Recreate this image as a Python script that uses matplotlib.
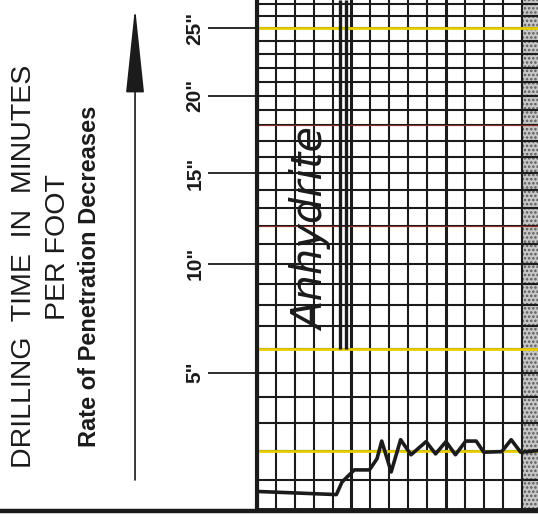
import numpy as np
import matplotlib
matplotlib.use('Agg')
import matplotlib.pyplot as plt
from matplotlib.patches import FancyArrowPatch
from matplotlib.lines import Line2D

# drilling time curve: depth in grid divisions, time in minutes per foot
depth = [0.15, 4.2, 4.5, 5.15, 5.95, 6.35, 6.6, 7.1, 7.6, 8.15, 8.95, 9.45,
         10.0, 10.5, 11.05, 11.6, 12.0, 12.95, 13.45, 13.95, 14.8]
minutes = [0.6, 0.5, 0.92, 1.33, 1.33, 1.72, 2.35, 1.26, 2.4, 1.86, 2.33, 1.89,
           2.33, 1.86, 2.35, 2.35, 1.95, 1.97, 2.4, 1.95, 2.0]

time_ticks = [5, 10, 15, 20, 25]
time_labels = ['5"', '10"', '15"', '20"', '25"']
yellow_lines = [2, 6, 25]
red_lines = [12, 18]

litho_label = 'Anhydrite'
litho_depth = 2.9
litho_time = 11.8
litho_marks = [4.4, 4.7]   # pen lines marking the anhydrite column
litho_base = 6

x_max = 14.87
y_max = 27.3
ink = '#1b1b1b'


def fwd(v):
    # chart paper is compressed toward the top (roughly logarithmic)
    return np.log1p(np.asarray(v, dtype=float) / 17.0)


def inv(u):
    return 17.0 * np.expm1(u)


plt.rcParams['font.family'] = ['Liberation Sans', 'DejaVu Sans']
plt.rcParams['hatch.linewidth'] = 1.2
fig = plt.figure(figsize=(5.38, 5.17), dpi=100)
ax = fig.add_axes([0.4777, 0.0135, 0.5223, 0.9865])
ax.set_yscale('function', functions=(fwd, inv))
ax.set_xlim(0, x_max)
ax.set_ylim(0, y_max)

# grid paper
ax.set_xticks([0, 5, 10])
ax.set_xticks(range(0, 15), minor=True)
ax.set_yticks(time_ticks)
ax.set_yticklabels(time_labels)
ax.set_yticks(range(0, 28), minor=True)
ax.xaxis.grid(True, which='minor', color=ink, lw=1.5)
ax.xaxis.grid(True, which='major', color=ink, lw=2.2)
ax.yaxis.grid(True, which='both', color=ink, lw=1.5)
ax.set_axisbelow(True)

ax.tick_params(axis='x', which='both', length=0, labelbottom=False)
ax.tick_params(axis='y', which='minor', length=0)
ax.tick_params(axis='y', which='major', length=35, width=1.3, color=ink,
               direction='out', pad=3, labelsize=15, labelcolor=ink)
for lab in ax.get_yticklabels():
    lab.set_rotation(90)
    lab.set_va('center')
    lab.set_fontweight('bold')
for tick, lab in zip(ax.yaxis.get_major_ticks(), time_labels):
    if lab == '25"':
        tick.tick1line.set_color('#e2c800')

for s in ['top', 'right']:
    ax.spines[s].set_visible(False)
ax.spines['left'].set_linewidth(3)
ax.spines['left'].set_color(ink)
ax.spines['bottom'].set_linewidth(3.5)
ax.spines['bottom'].set_color(ink)

# scan colour fringes on some rulings
for v in yellow_lines:
    ax.axhline(v, color='#e8cf00', lw=2.0, zorder=1.5)
for v in red_lines:
    ax.axhline(v, color='#c0392b', lw=0.8, alpha=0.7, zorder=1.5)

# speckled scanner edge
ax.axvspan(14.0, x_max, facecolor='0.78', edgecolor='0.35', hatch='....', lw=0, zorder=0.5)

# lithology marks
for x in litho_marks:
    ax.plot([x, x], [litho_base, y_max], color=ink, lw=2.4, solid_capstyle='butt')
ax.text(litho_depth, litho_time, litho_label, rotation=90, ha='center', va='center',
        fontsize=30, style='italic', family='DejaVu Sans', color=ink)

# drilling time curve
ax.plot(depth, minutes, color=ink, lw=2.6, solid_joinstyle='round', zorder=3)

# left title block
fig.text(0.0446, 0.4855, 'DRILLING  TIME  IN  MINUTES', rotation=90, ha='center', va='center',
         fontsize=20.5, color=ink)
fig.text(0.1069, 0.5213, 'PER FOOT', rotation=90, ha='center', va='center',
         fontsize=20.5, color=ink)
fig.text(0.167, 0.4662, 'Rate of Penetration Decreases', rotation=90, ha='center', va='center',
         fontsize=17, fontweight='bold', color=ink)

arrow = FancyArrowPatch((0.251, 0.0716), (0.251, 0.986), transform=fig.transFigure,
                        arrowstyle='-|>,head_length=55,head_width=5.8', mutation_scale=1,
                        shrinkA=0, shrinkB=0, color=ink, lw=1.2)
fig.add_artist(arrow)

fig.add_artist(Line2D([0, 1], [0.0116, 0.0116], transform=fig.transFigure, color=ink, lw=3.2))

plt.savefig('out.png', dpi=100)
